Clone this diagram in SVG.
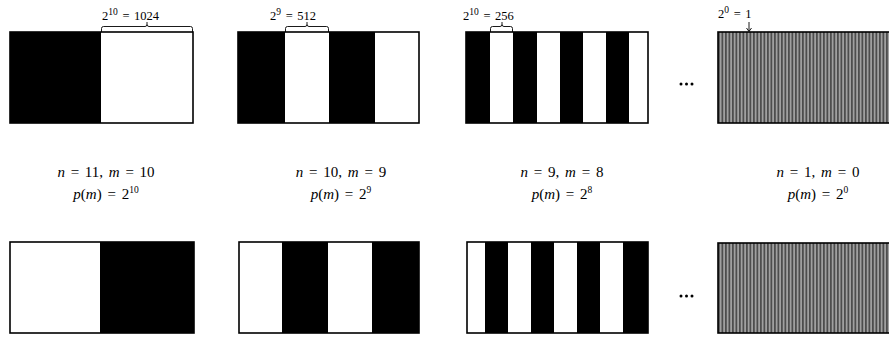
<svg xmlns="http://www.w3.org/2000/svg" width="889" height="338" viewBox="0 0 889 338">
  <defs>
    <pattern id="fine" x="718" width="3.5" height="20" patternUnits="userSpaceOnUse">
      <rect width="3.5" height="20" fill="#a0a0a0"/>
      <rect width="1.75" height="20" fill="#4d4d4d"/>
    </pattern>
  </defs>
  <style>
    .frame { fill: none; stroke: #000; stroke-width: 1.6; }
    .blk { fill: #000; }
    .wht { fill: #fff; }
    .brace { fill: none; stroke: #000; stroke-width: 0.9; }
    .lbl { font-family: "Liberation Serif", "DejaVu Serif", serif; font-size: 12.5px; fill: #000; word-spacing: 1.5px; }
    .math { font-family: "Liberation Serif", "DejaVu Serif", serif; font-size: 15px; fill: #000; text-anchor: middle; word-spacing: 2px; }
    .sup { font-size: 9.5px; }
    .it { font-style: italic; }
    .dot { fill: #000; }
  </style>

  <!-- Top row -->
  <g id="top1">
    <rect x="10" y="32" width="91" height="91" class="blk"/>
    <rect x="101" y="32" width="92" height="91" class="wht"/>
    <rect x="10" y="32" width="183" height="91" class="frame"/>
    <path class="brace" d="M101.5,32 V28.5 Q101.5,26.5 103.5,26.5 H145 Q147,26.5 147,24.5 V22 M147,24.5 Q147,26.5 149,26.5 H190.5 Q192.5,26.5 192.5,28.5 V32"/>
    <text class="lbl" x="102" y="20">2<tspan class="sup" dy="-5">10</tspan><tspan dy="5"> = 1024</tspan></text>
  </g>

  <g id="top2">
    <rect x="238" y="32" width="47" height="91" class="blk"/>
    <rect x="285" y="32" width="44" height="91" class="wht"/>
    <rect x="329" y="32" width="46" height="91" class="blk"/>
    <rect x="375" y="32" width="44" height="91" class="wht"/>
    <rect x="238" y="32" width="181" height="91" class="frame"/>
    <path class="brace" d="M285.5,32 V28.5 Q285.5,26.5 287.5,26.5 H305 Q307,26.5 307,24.5 V22 M307,24.5 Q307,26.5 309,26.5 H326.5 Q328.5,26.5 328.5,28.5 V32"/>
    <text class="lbl" x="270" y="20">2<tspan class="sup" dy="-5">9</tspan><tspan dy="5"> = 512</tspan></text>
  </g>

  <g id="top3">
    <rect x="466" y="32" width="182" height="91" class="blk"/>
    <rect x="490" y="32" width="23" height="91" class="wht"/>
    <rect x="537" y="32" width="23" height="91" class="wht"/>
    <rect x="583" y="32" width="23" height="91" class="wht"/>
    <rect x="629" y="32" width="19" height="91" class="wht"/>
    <rect x="466" y="32" width="182" height="91" class="frame"/>
    <path class="brace" d="M490.5,32 V28.5 Q490.5,26.5 492.5,26.5 H500 Q502,26.5 502,24.5 V22 M502,24.5 Q502,26.5 504,26.5 H510.5 Q512.5,26.5 512.5,28.5 V32"/>
    <text class="lbl" x="463" y="20">2<tspan class="sup" dy="-5">10</tspan><tspan dy="5"> = 256</tspan></text>
  </g>

  <g id="dots-top">
    <circle class="dot" cx="681" cy="84" r="1.5"/>
    <circle class="dot" cx="686.5" cy="84" r="1.5"/>
    <circle class="dot" cx="692" cy="84" r="1.5"/>
  </g>

  <g id="top4">
    <rect x="718" y="32" width="180" height="91" fill="url(#fine)"/>
    <rect x="718" y="32" width="180" height="91" class="frame"/>
    <path class="brace" d="M749,22 V31 M746.5,28 L749,31.5 L751.5,28"/>
    <text class="lbl" x="718" y="18">2<tspan class="sup" dy="-5">0</tspan><tspan dy="5"> = 1</tspan></text>
  </g>

  <!-- Middle labels -->
  <g id="label1">
    <text class="math" x="106" y="177"><tspan class="it">n</tspan> = 11,  <tspan class="it">m</tspan> = 10</text>
    <text class="math" x="106" y="199"><tspan class="it">p</tspan>(<tspan class="it">m</tspan>) = 2<tspan class="sup" dy="-6">10</tspan></text>
  </g>
  <g id="label2">
    <text class="math" x="341" y="177"><tspan class="it">n</tspan> = 10,  <tspan class="it">m</tspan> = 9</text>
    <text class="math" x="341" y="199"><tspan class="it">p</tspan>(<tspan class="it">m</tspan>) = 2<tspan class="sup" dy="-6">9</tspan></text>
  </g>
  <g id="label3">
    <text class="math" x="562" y="177"><tspan class="it">n</tspan> = 9,  <tspan class="it">m</tspan> = 8</text>
    <text class="math" x="562" y="199"><tspan class="it">p</tspan>(<tspan class="it">m</tspan>) = 2<tspan class="sup" dy="-6">8</tspan></text>
  </g>
  <g id="label4">
    <text class="math" x="818" y="177"><tspan class="it">n</tspan> = 1,  <tspan class="it">m</tspan> = 0</text>
    <text class="math" x="818" y="199"><tspan class="it">p</tspan>(<tspan class="it">m</tspan>) = 2<tspan class="sup" dy="-6">0</tspan></text>
  </g>

  <!-- Bottom row -->
  <g id="bot1">
    <rect x="10" y="242" width="90" height="91" class="wht"/>
    <rect x="100" y="242" width="94" height="91" class="blk"/>
    <rect x="10" y="242" width="184" height="91" class="frame"/>
  </g>

  <g id="bot2">
    <rect x="239" y="242" width="180" height="91" class="blk"/>
    <rect x="239" y="242" width="43" height="91" class="wht"/>
    <rect x="328" y="242" width="44" height="91" class="wht"/>
    <rect x="239" y="242" width="180" height="91" class="frame"/>
  </g>

  <g id="bot3">
    <rect x="467" y="242" width="181" height="91" class="blk"/>
    <rect x="467" y="242" width="18" height="91" class="wht"/>
    <rect x="508" y="242" width="23" height="91" class="wht"/>
    <rect x="554" y="242" width="23" height="91" class="wht"/>
    <rect x="600" y="242" width="23" height="91" class="wht"/>
    <rect x="467" y="242" width="181" height="91" class="frame"/>
  </g>

  <g id="dots-bot">
    <circle class="dot" cx="681" cy="296" r="1.5"/>
    <circle class="dot" cx="686.5" cy="296" r="1.5"/>
    <circle class="dot" cx="692" cy="296" r="1.5"/>
  </g>

  <g id="bot4">
    <rect x="718" y="243" width="180" height="90" fill="url(#fine)"/>
    <rect x="718" y="243" width="180" height="90" class="frame"/>
  </g>

  <g id="connectors"/>
</svg>
